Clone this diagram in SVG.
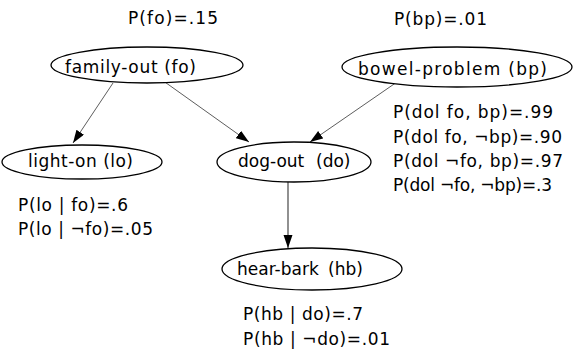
<svg xmlns="http://www.w3.org/2000/svg" width="575" height="350" viewBox="0 0 575 350">
<style>
text{font-family:"DejaVu Sans","Verdana",sans-serif;font-size:17px;fill:#000}
.node ellipse{fill:#fff;stroke:#000;stroke-width:1.3}
.edge{stroke:#333;stroke-width:0.8;fill:none;marker-end:url(#ah)}
.edge.thick{stroke:#555;stroke-width:1.3}
</style>
<defs>
<marker id="ah" markerUnits="userSpaceOnUse" markerWidth="14" markerHeight="10" refX="13" refY="4.5" orient="auto" viewBox="0 0 14 10">
<path d="M0,0 L13,4.5 L0,9 z" fill="#000"/>
</marker>
</defs>
<rect width="575" height="350" fill="#fff"/>
<g id="connectors">
<line class="edge" x1="113" y1="83" x2="73" y2="143"/>
<line class="edge" x1="162" y1="80" x2="249" y2="142"/>
<line class="edge" x1="397" y1="82" x2="310" y2="142"/>
<line class="edge thick" x1="288" y1="182" x2="288" y2="248"/>
</g>
<g id="fo" class="node">
<ellipse cx="147" cy="65" rx="96" ry="18"/>
<text x="65" y="73" textLength="131" lengthAdjust="spacing">family-out (fo)</text>
</g>
<g id="bp" class="node">
<ellipse cx="457" cy="67" rx="115" ry="20"/>
<text x="358" y="75" textLength="189" lengthAdjust="spacing">bowel-problem (bp)</text>
</g>
<g id="lo" class="node">
<ellipse cx="82" cy="162" rx="80" ry="17"/>
<text x="28" y="167" textLength="105" lengthAdjust="spacing">light-on (lo)</text>
</g>
<g id="do" class="node">
<ellipse cx="294" cy="162" rx="77" ry="20"/>
<text x="238" y="167"><tspan>dog-out </tspan><tspan x="316">(do)</tspan></text>
</g>
<g id="hb" class="node">
<ellipse cx="312" cy="269" rx="90" ry="21"/>
<text x="237" y="275"><tspan>hear-bark </tspan><tspan x="328">(hb)</tspan></text>
</g>
<g id="tables">
<text x="128" y="24" textLength="90" lengthAdjust="spacing">P(fo)=.15</text>
<text x="394" y="25" textLength="93" lengthAdjust="spacing">P(bp)=.01</text>
<text x="393" y="118" textLength="160" lengthAdjust="spacing">P(dol fo, bp)=.99</text>
<text x="393" y="143" textLength="169" lengthAdjust="spacing">P(dol fo, ¬bp)=.90</text>
<text x="393" y="167" textLength="170" lengthAdjust="spacing">P(dol ¬fo, bp)=.97</text>
<text x="393" y="191" textLength="159" lengthAdjust="spacing">P(dol ¬fo, ¬bp)=.3</text>
<text x="18" y="211" textLength="110" lengthAdjust="spacing">P(lo | fo)=.6</text>
<text x="18" y="235" textLength="135" lengthAdjust="spacing">P(lo | ¬fo)=.05</text>
<text x="243" y="320" textLength="120" lengthAdjust="spacing">P(hb | do)=.7</text>
<text x="243" y="345" textLength="147" lengthAdjust="spacing">P(hb | ¬do)=.01</text>
</g>
</svg>
